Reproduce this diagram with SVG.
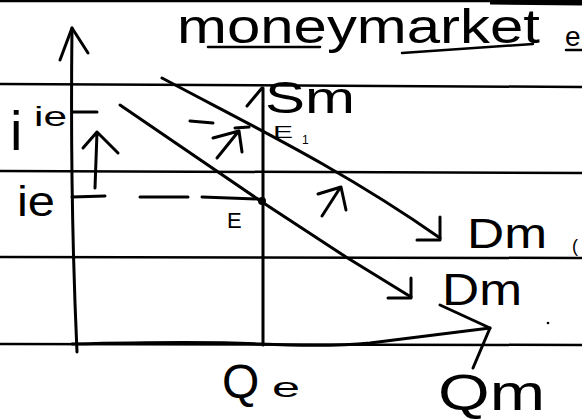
<svg xmlns="http://www.w3.org/2000/svg" width="582" height="420" viewBox="0 0 582 420">
<style>
.rule{stroke:#000;stroke-width:2.5;fill:none}
.ink{stroke:#000;stroke-width:3;fill:none;stroke-linecap:round;stroke-linejoin:round}
.thin{stroke:#000;stroke-width:2.5;fill:none;stroke-linecap:round;stroke-linejoin:round}
.t{font-family:"Liberation Sans",Arial,sans-serif;fill:#000}
</style>
<rect width="582" height="420" fill="#fff"/>
<g id="ruled-lines">
<line class="rule" x1="0" y1="1" x2="582" y2="1"/>
<line x1="490" y1="2" x2="582" y2="3" stroke="#000" stroke-width="5"/>
<line class="rule" x1="0" y1="84" x2="582" y2="87"/>
<line class="rule" x1="0" y1="171" x2="582" y2="173"/>
<line class="rule" x1="0" y1="257" x2="582" y2="258"/>
<line class="rule" x1="0" y1="344" x2="582" y2="345"/>
</g>
<g id="title">
<text class="t" x="177" y="43" font-size="48" textLength="363" lengthAdjust="spacingAndGlyphs">moneymarket</text>
<text class="t" x="565" y="46" font-size="28">e</text>
<path class="thin" d="M208 47 L320 47 M402 53 L533 44 M566 50 L582 50"/>
</g>
<g id="axes">
<path class="ink" d="M77 352 Q70 200 72 28"/>
<path class="ink" d="M60 60 L72 28 L88 53"/>
<path class="ink" d="M72 344 Q200 341 260 344 Q330 347 370 343 L490 328"/>
<path class="ink" d="M440 305 L490 328 L473 368"/>
</g>
<g id="connectors">
<g id="supply-Sm">
<path class="ink" d="M263 345 L263 88"/>
<path class="ink" d="M247 106 L262 88"/>
</g>
<g id="demand-Dm1">
<path class="ink" d="M162 78 C250 125 340 168 440 238"/>
<path class="ink" d="M440 217 L440 240 L417 240"/>
</g>
<g id="demand-Dm2">
<path class="ink" d="M120 105 L262 202 L346 257 L411 297"/>
<path class="ink" d="M411 278 L411 298 L388 298"/>
</g>
<g id="dashes-ie1">
<path class="ink" d="M72 112 L97 112 M190 121 L213 123 M235 128 L249 127"/>
</g>
<g id="dashes-ie">
<path class="ink" d="M72 197 L105 196 M140 197 L188 197 M202 197 L258 199"/>
</g>
<g id="shift-arrows">
<path class="ink" d="M95 188 L97 132 M83 148 L97 132 L118 153"/>
<path class="ink" d="M217 158 L238 132 M213 138 L239 131 L242 152"/>
<path class="ink" d="M322 216 L340 188 M318 194 L341 187 L346 210"/>
</g>
</g>
<g id="point-E">
<circle cx="262" cy="201" r="4" fill="#000"/>
<text class="t" x="227" y="228" font-size="22">E</text>
</g>
<g id="point-E1">
<text class="t" x="273" y="138" font-size="17" textLength="20" lengthAdjust="spacingAndGlyphs">E</text>
<text class="t" x="302" y="144" font-size="12">1</text>
</g>
<g id="labels">
<text class="t" x="10" y="150" font-size="56">i</text>
<text class="t" x="34" y="126" font-size="28" textLength="33" lengthAdjust="spacingAndGlyphs">ie</text>
<text class="t" x="17" y="216" font-size="42" textLength="38" lengthAdjust="spacingAndGlyphs">ie</text>
<text class="t" x="265" y="113" font-size="44" textLength="90" lengthAdjust="spacingAndGlyphs">Sm</text>
<text class="t" x="467" y="248" font-size="42" textLength="80" lengthAdjust="spacingAndGlyphs">Dm</text>
<text class="t" x="572" y="252" font-size="18">(</text>
<text class="t" x="442" y="305" font-size="44" textLength="80" lengthAdjust="spacingAndGlyphs">Dm</text>
<text class="t" x="222" y="398" font-size="48">Q</text>
<text class="t" x="272" y="397" font-size="28" textLength="28" lengthAdjust="spacingAndGlyphs">e</text>
<text class="t" x="438" y="410" font-size="50" textLength="107" lengthAdjust="spacingAndGlyphs">Qm</text>
</g>
<circle cx="548" cy="323" r="1.3" fill="#000"/>
</svg>
